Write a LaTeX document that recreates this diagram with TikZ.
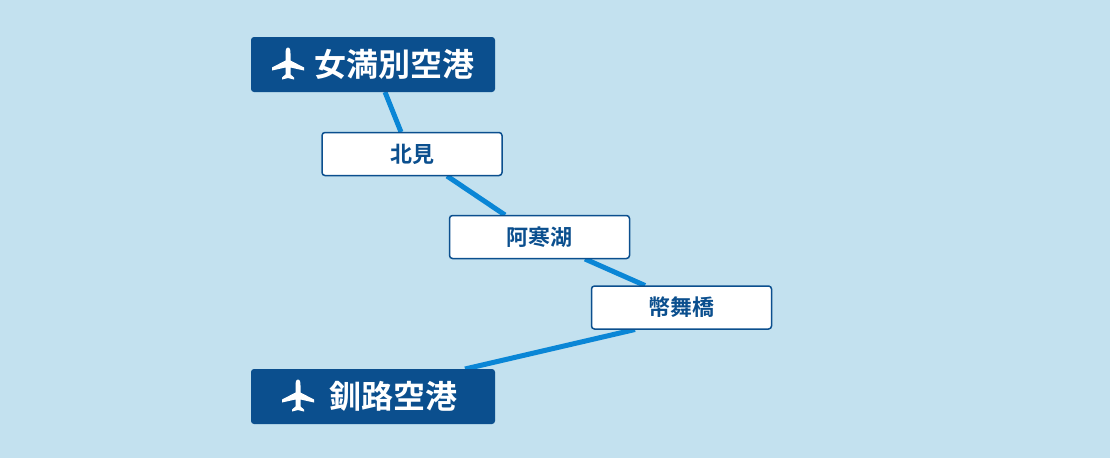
\documentclass[tikz,border=0pt]{standalone}
\usepackage{fontspec}
\newfontfamily\jp{Noto Sans CJK JP Bold}
\begin{document}
\begin{tikzpicture}[x=1pt,y=-1pt,
 small/.style={draw=boxblue,line width=1.5pt,fill=white,rounded corners=3pt,text=boxblue,font=\jp\fontsize{22}{23}\selectfont,minimum width=180pt,minimum height=43pt,inner sep=0pt},
 route/.style={draw=lineblue,line width=5pt},
 bigtext/.style={text=white,font=\jp\fontsize{32}{33}\selectfont,anchor=west,inner sep=0pt}]
\definecolor{bg}{HTML}{C3E1EF}
\definecolor{boxblue}{HTML}{0B4F8E}
\definecolor{lineblue}{HTML}{0A86D6}
\fill[bg] (0,0) rectangle (1110,458);
\useasboundingbox (0,0) rectangle (1110,458);
\coordinate (memT) at (385,92);
\coordinate (kusB) at (465,369);
\path (412,154) coordinate (kitami) (539.5,237) coordinate (akan) (681.5,307.5) coordinate (nusa);
\draw[route] (memT) -- ([xshift=-11pt,yshift=22pt]kitami);
\draw[route] ([xshift=35pt,yshift=-22pt]kitami) -- ([xshift=-34.5pt,yshift=22pt]akan);
\draw[route] ([xshift=45.5pt,yshift=-22pt]akan) -- ([xshift=-36.5pt,yshift=22pt]nusa);
\draw[route] ([xshift=-46.5pt,yshift=-22pt]nusa) -- (kusB);
\node[small] (kitamiN) at (kitami) {北見};
\node[small] (akanN) at (akan) {阿寒湖};
\node[small] (nusaN) at (nusa) {幣舞橋};
\fill[boxblue,rounded corners=3pt] (251,37) rectangle (495,92);
\fill[boxblue,rounded corners=3pt] (251,369) rectangle (495,424);
\node[bigtext] (mem) at (314,64.5) {女満別空港};
\node[bigtext] (kus) at (329,396.5) {釧路空港};
\foreach \cx/\cy in {288/64.5,298/396.5}{
\begin{scope}[shift={(\cx,\cy)}]
\fill[white] (0,-17) .. controls (2.5,-17) and (2.5,-13) .. (2.5,-11) -- (2.5,-4) -- (16,3) -- (16,6) -- (2.5,3) -- (2.5,10) -- (6,13) -- (6,15) -- (0,13.5) -- (-6,15) -- (-6,13) -- (-2.5,10) -- (-2.5,3) -- (-16,6) -- (-16,3) -- (-2.5,-4) -- (-2.5,-11) .. controls (-2.5,-13) and (-2.5,-17) .. (0,-17) -- cycle;
\end{scope}}
\end{tikzpicture}
\end{document}
